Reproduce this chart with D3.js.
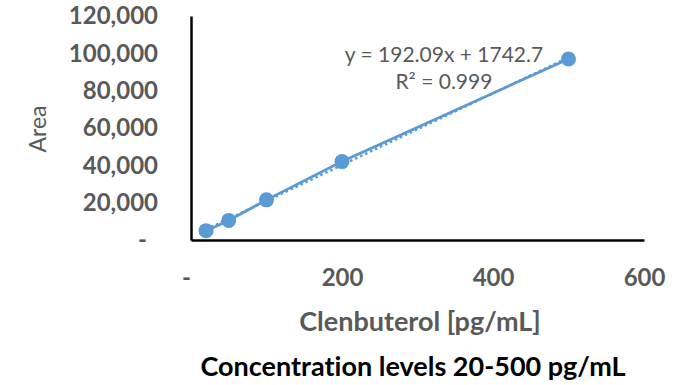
<!DOCTYPE html>
<html>
<head>
<meta charset="utf-8">
<script src="https://cdn.jsdelivr.net/npm/d3@7"></script>
<style>
  body { margin: 0; background: #fff; }
  svg { display: block; font-family: Lato, "Open Sans", sans-serif; font-variant-ligatures: none; }
</style>
</head>
<body>
<div id="chart"></div>
<script>
// --- Data ---
const concentrations = [20, 50, 100, 200, 500];          // pg/mL
const areas = [5000, 10500, 21500, 42000, 97000];        // peak area
const xTicks = [0, 200, 400, 600];
const yTicks = [0, 20000, 40000, 60000, 80000, 100000, 120000];
const trendSlope = 192.09;
const trendIntercept = 1742.7;
const equationLines = ["y = 192.09x + 1742.7", "R² = 0.999"];

const W = 694, H = 385;
const blue = "#5B9BD5";
const grey = "#595959";

const svg = d3.select("#chart")
    .append("svg")
    .attr("width", W)
    .attr("height", H);

// Scales
const x = d3.scaleLinear().domain([0, 600]).range([191, 644]);
const y = d3.scaleLinear().domain([0, 120000]).range([240, 16]);

const fmt = d => d === 0 ? "-" : d3.format(",")(d);

// Y axis
const yAxis = svg.append("g")
    .attr("transform", `translate(${x(0)},0)`)
    .call(d3.axisLeft(y).tickValues(yTicks).tickSize(0).tickSizeOuter(0).tickPadding(33).tickFormat(fmt));

// X axis
const xAxis = svg.append("g")
    .attr("transform", `translate(0,${y(0)})`)
    .call(d3.axisBottom(x).tickValues(xTicks).tickSize(0).tickSizeOuter(0).tickPadding(29).tickFormat(fmt));

[xAxis, yAxis].forEach(g => {
    g.select(".domain")
        .attr("stroke", "#000")
        .attr("stroke-width", 2.5);
    g.selectAll("text")
        .attr("fill", grey)
        .style("font-size", "24px")
        .style("font-weight", "bold")
        .style("font-family", "Lato, sans-serif");
});
// accounting-style dash for zero sits a bit to the left
yAxis.selectAll(".tick text").filter(d => d === 0).attr("dx", -11);
xAxis.selectAll(".tick text").filter(d => d === 0).attr("dx", -5);

// Linear trendline (dotted)
const tx = d3.extent(concentrations);
svg.append("path")
    .datum(tx)
    .attr("d", d3.line().x(d => x(d)).y(d => y(trendSlope * d + trendIntercept)))
    .attr("fill", "none")
    .attr("stroke", blue)
    .attr("stroke-width", 2.5)
    .attr("stroke-dasharray", "2.5 3");

// Series line
const pts = concentrations.map((c, i) => ({ c, a: areas[i] }));
svg.append("path")
    .datum(pts)
    .attr("d", d3.line().x(d => x(d.c)).y(d => y(d.a)))
    .attr("fill", "none")
    .attr("stroke", blue)
    .attr("stroke-width", 2.75);

// Markers
svg.selectAll("circle.pt")
    .data(pts)
    .enter()
    .append("circle")
    .attr("class", "pt")
    .attr("cx", d => x(d.c))
    .attr("cy", d => y(d.a))
    .attr("r", 7.5)
    .attr("fill", blue);

// Trendline equation
svg.append("g")
    .selectAll("text")
    .data(equationLines)
    .enter()
    .append("text")
    .attr("x", 444)
    .attr("y", (d, i) => 62 + i * 27)
    .attr("text-anchor", "middle")
    .attr("fill", grey)
    .style("font-size", "21px")
    .text(d => d);

// Axis titles
svg.append("text")
    .attr("transform", "translate(46,129) rotate(-90)")
    .attr("text-anchor", "middle")
    .attr("fill", grey)
    .style("font-size", "23px")
    .text("Area");

svg.append("text")
    .attr("x", 420)
    .attr("y", 331)
    .attr("text-anchor", "middle")
    .attr("fill", grey)
    .style("font-size", "27px")
    .style("font-weight", "bold")
    .text("Clenbuterol [pg/mL]");

svg.append("text")
    .attr("x", 413)
    .attr("y", 376)
    .attr("text-anchor", "middle")
    .attr("fill", "#000")
    .style("font-size", "27px")
    .style("font-weight", "bold")
    .text("Concentration levels 20-500 pg/mL");
</script>
</body>
</html>
